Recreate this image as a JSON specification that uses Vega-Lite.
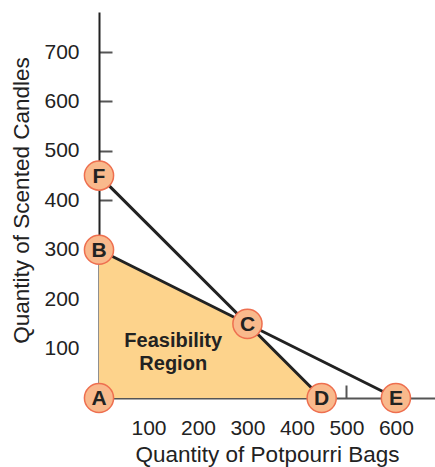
{
  "$schema": "https://vega.github.io/schema/vega-lite/v6.json",
  "width": 336,
  "height": 386,
  "autosize": "none",
  "padding": {"left": 99, "top": 12, "right": 0, "bottom": 69},
  "background": "white",
  "config": {
    "view": {"stroke": null},
    "font": "Liberation Sans",
    "axis": {
      "grid": false,
      "labelFont": "Liberation Sans",
      "labelFontSize": 21,
      "labelColor": "#222222",
      "titleFont": "Liberation Sans",
      "titleFontSize": 22.5,
      "titleFontWeight": "normal",
      "titleColor": "#222222",
      "tickColor": "#555555",
      "tickWidth": 2,
      "tickSize": -13,
      "domainWidth": 2
    }
  },
  "datasets": {
    "region": [
      {"x": 0, "y": 300},
      {"x": 300, "y": 150},
      {"x": 450, "y": 0}
    ],
    "lines": [
      {"line": "FD", "x": 0, "y": 450},
      {"line": "FD", "x": 450, "y": 0},
      {"line": "BE", "x": 0, "y": 300},
      {"line": "BE", "x": 600, "y": 0}
    ],
    "points": [
      {"label": "A", "x": 0, "y": 0},
      {"label": "B", "x": 0, "y": 300},
      {"label": "C", "x": 300, "y": 150},
      {"label": "D", "x": 450, "y": 0},
      {"label": "E", "x": 600, "y": 0},
      {"label": "F", "x": 0, "y": 450}
    ],
    "note": [
      {"x": 150, "y": 116, "text": "Feasibility\nRegion"}
    ]
  },
  "layer": [
    {
      "data": {"name": "region"},
      "mark": {"type": "area", "color": "#FDD38C"},
      "encoding": {
        "x": {
          "field": "x", "type": "quantitative",
          "scale": {"domain": [0, 679], "nice": false, "zero": true},
          "axis": {
            "title": "Quantity of Potpourri Bags",
            "values": [100, 200, 300, 400, 500, 600],
            "domainColor": "#555555",
            "labelPadding": 32,
            "titlePadding": 5
          }
        },
        "y": {
          "field": "y", "type": "quantitative",
          "scale": {"domain": [0, 781], "nice": false, "zero": true},
          "axis": {
            "title": "Quantity of Scented Candles",
            "values": [100, 200, 300, 400, 500, 600, 700],
            "domainColor": "#222222",
            "labelPadding": 33,
            "titleX": -71,
            "titleY": 188,
            "titleAngle": -90,
            "titleAlign": "center",
            "titleBaseline": "alphabetic"
          }
        }
      }
    },
    {
      "data": {"name": "lines"},
      "mark": {"type": "line", "color": "#222222", "strokeWidth": 3},
      "encoding": {
        "x": {"field": "x", "type": "quantitative"},
        "y": {"field": "y", "type": "quantitative"},
        "detail": {"field": "line"}
      }
    },
    {
      "data": {"name": "note"},
      "mark": {"type": "text", "fontSize": 20, "fontWeight": "bold", "color": "#222222", "lineBreak": "\n", "lineHeight": 23, "align": "center", "baseline": "middle"},
      "encoding": {
        "x": {"field": "x", "type": "quantitative"},
        "y": {"field": "y", "type": "quantitative"},
        "text": {"field": "text"}
      }
    },
    {
      "data": {"name": "points"},
      "mark": {"type": "point", "shape": "circle", "filled": true, "size": 850, "fill": "#F9B98C", "stroke": "#EE6F4F", "strokeWidth": 1.5, "opacity": 1},
      "encoding": {
        "x": {"field": "x", "type": "quantitative"},
        "y": {"field": "y", "type": "quantitative"}
      }
    },
    {
      "data": {"name": "points"},
      "mark": {"type": "text", "fontSize": 21, "fontWeight": "bold", "color": "#222222", "align": "center", "baseline": "middle", "dy": 1},
      "encoding": {
        "x": {"field": "x", "type": "quantitative"},
        "y": {"field": "y", "type": "quantitative"},
        "text": {"field": "label"}
      }
    }
  ]
}
